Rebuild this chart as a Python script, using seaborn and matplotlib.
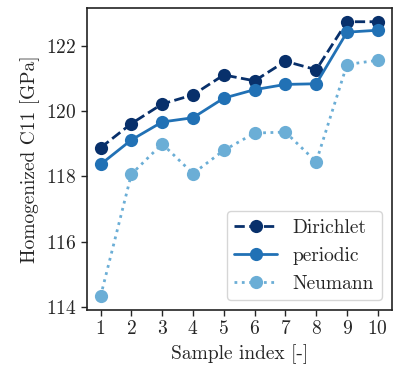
import matplotlib
matplotlib.use("Agg")
import matplotlib.pyplot as plt
import seaborn as sns
import pandas as pd

samples = [1, 2, 3, 4, 5, 6, 7, 8, 9, 10]
dirichlet = [118.88, 119.62, 120.22, 120.50, 121.11, 120.93, 121.53, 121.27, 122.74, 122.74]
periodic = [118.37, 119.12, 119.67, 119.80, 120.40, 120.66, 120.82, 120.84, 122.42, 122.48]
neumann = [114.33, 118.07, 119.00, 118.09, 118.80, 119.33, 119.36, 118.45, 121.43, 121.56]
series_names = ["Dirichlet", "periodic", "Neumann"]

sns.set_style("ticks")
plt.rcParams["font.family"] = ["cmr10", "DejaVu Serif"]
plt.rcParams["axes.formatter.use_mathtext"] = True
plt.rcParams["mathtext.fontset"] = "cm"

colors = ["#08306b", "#2171b5", "#6baed6"]
styles = ["--", "-", ":"]

fig = plt.figure(figsize=(3.95, 3.74), dpi=100)
ax = fig.add_axes([0.2195, 0.171, 0.7721, 0.8076])

for name, vals, c, ls in zip(series_names, [dirichlet, periodic, neumann], colors, styles):
    df = pd.DataFrame({"x": samples, "y": vals})
    sns.lineplot(data=df, x="x", y="y", ax=ax, color=c, linestyle=ls, marker="o",
                 markersize=9.5, linewidth=2, markeredgewidth=0, label=name)

ax.set_xticks(samples)
ax.set_yticks([114, 116, 118, 120, 122])
ax.tick_params(labelsize=14, width=1, length=4)
ax.set_xlabel("Sample index [-]", fontsize=14)
ax.set_ylabel("Homogenized C11 [GPa]", fontsize=14)
for s in ax.spines.values():
    s.set_linewidth(1.2)
    s.set_color("#222222")
leg = ax.legend(loc="lower right", fontsize=14, handlelength=2.2, frameon=True)
leg.get_frame().set_edgecolor("#cccccc")

fig.savefig("out.png", dpi=100)
